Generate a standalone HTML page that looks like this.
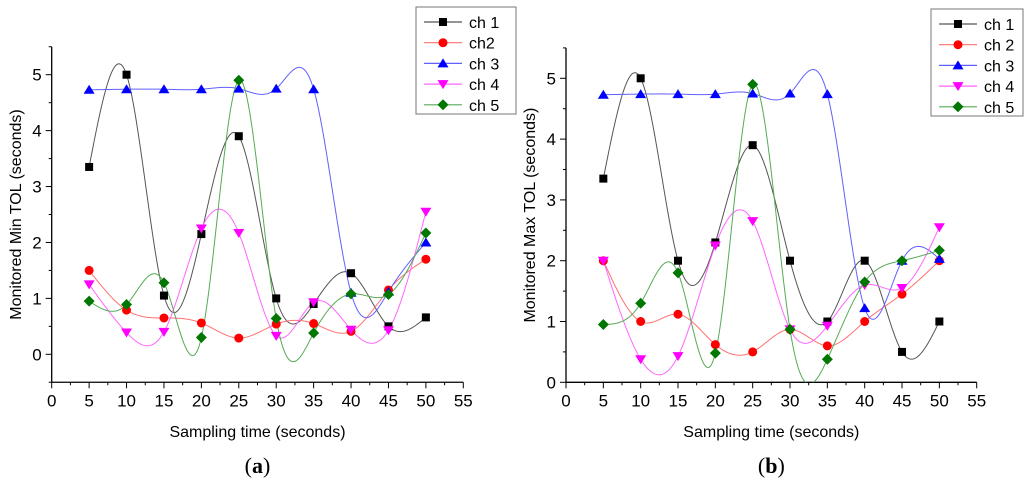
<!DOCTYPE html>
<html><head><meta charset="utf-8"><style>
html,body{margin:0;padding:0;background:#fff;width:1024px;height:487px;overflow:hidden;font-family:"Liberation Sans",sans-serif}
svg{display:block}
</style></head><body>
<svg id="svg" width="1024" height="487" viewBox="0 0 1024 487" font-family="Liberation Sans, sans-serif"></svg>
<script>
const xCats = [5,10,15,20,25,30,35,40,45,50];
const xTicks = [0,5,10,15,20,25,30,35,40,45,50,55];
const yTicks = [0,1,2,3,4,5];
const seriesNames = ['ch 1','ch2','ch 3','ch 4','ch 5'];
const seriesNamesB = ['ch 1','ch 2','ch 3','ch 4','ch 5'];
const colors = ['#000000','#ff0000','#0000ff','#ff00ff','#007700'];
const lineColors = ['#555555','#ff7070','#6060ff','#ff66ff','#55aa55'];
const shapes = ['square','circle','up','down','diamond'];
const a_ch1 = [3.35,5,1.05,2.15,3.9,1,0.9,1.45,0.5,0.66];
const a_ch2 = [1.5,0.79,0.65,0.56,0.29,0.54,0.55,0.41,1.15,1.7];
const a_ch3 = [4.73,4.74,4.74,4.74,4.75,4.75,4.74,1.1,1.12,2.0];
const a_ch4 = [1.25,0.39,0.4,2.25,2.17,0.33,0.93,0.44,0.43,2.55];
const a_ch5 = [0.95,0.89,1.28,0.3,4.9,0.64,0.38,1.08,1.07,2.17];
const b_ch1 = [3.35,5,2,2.3,3.9,2,1,2,0.5,1];
const b_ch2 = [2,1,1.12,0.62,0.5,0.87,0.6,1,1.45,2];
const b_ch3 = [4.73,4.74,4.74,4.74,4.75,4.75,4.74,1.22,2.0,2.03];
const b_ch4 = [2,0.38,0.43,2.25,2.65,0.87,0.93,1.6,1.55,2.55];
const b_ch5 = [0.95,1.3,1.8,0.48,4.9,0.87,0.38,1.65,2,2.17];

const NS='http://www.w3.org/2000/svg';
const svg=document.getElementById('svg');
function mk(tag,attrs,parent){const e=document.createElementNS(NS,tag);for(const k in attrs)e.setAttribute(k,attrs[k]);(parent||svg).appendChild(e);return e;}

function spline(xs,ys){
  const n=xs.length,h=[],al=[0],l=[1],mu=[0],z=[0],c=new Array(n).fill(0),b=[],d=[];
  for(let i=0;i<n-1;i++)h.push(xs[i+1]-xs[i]);
  for(let i=1;i<n-1;i++)al.push(3/h[i]*(ys[i+1]-ys[i])-3/h[i-1]*(ys[i]-ys[i-1]));
  for(let i=1;i<n-1;i++){l[i]=2*(xs[i+1]-xs[i-1])-h[i-1]*mu[i-1];mu[i]=h[i]/l[i];z[i]=(al[i]-h[i-1]*z[i-1])/l[i];}
  for(let j=n-2;j>=0;j--){c[j]=z[j]-mu[j]*c[j+1];b[j]=(ys[j+1]-ys[j])/h[j]-h[j]*(c[j+1]+2*c[j])/3;d[j]=(c[j+1]-c[j])/(3*h[j]);}
  return t=>{let i=0;while(i<n-2&&t>xs[i+1])i++;const dx=t-xs[i];return ys[i]+b[i]*dx+c[i]*dx*dx+d[i]*dx*dx*dx;};
}

function marker(g,shape,cx,cy,col){
  let e;
  if(shape==='square')e=mk('rect',{x:cx-4,y:cy-4,width:8,height:8,fill:col},g);
  else if(shape==='circle')e=mk('circle',{cx:cx,cy:cy,r:4.5,fill:col},g);
  else if(shape==='up')e=mk('polygon',{points:`${cx},${cy-5} ${cx+5.5},${cy+4} ${cx-5.5},${cy+4}`,fill:col},g);
  else if(shape==='down')e=mk('polygon',{points:`${cx},${cy+5} ${cx+5.5},${cy-4} ${cx-5.5},${cy-4}`,fill:col},g);
  else e=mk('polygon',{points:`${cx},${cy-5.5} ${cx+5.5},${cy} ${cx},${cy+5.5} ${cx-5.5},${cy}`,fill:col},g);
  
  
}

function chart(id,cfg,series,names){
  const g=mk('g',{});
  
  
  const X=v=>cfg.x0+v*(cfg.x55-cfg.x0)/55;
  const Y=v=>cfg.y0-v*(cfg.y0-cfg.y5)/5;
  const top=Y(5.5),bot=Y(cfg.ymin);
  const clip=mk('clipPath',{id:'clip'+id},g);
  mk('rect',{x:X(0),y:top-20,width:X(55)-X(0),height:bot-top+20},clip);
  const ya=mk('line',{x1:X(0),y1:top,x2:X(0),y2:bot,stroke:'#000','stroke-width':1.3},g);
  
  const xa=mk('line',{x1:X(0),y1:bot,x2:X(55),y2:bot,stroke:'#000','stroke-width':1.3},g);
  
  for(let k=Math.round(cfg.ymin*2);k<=11;k++){const v=k/2;const big=k%2===0;mk('line',{x1:X(0)-(big?6:3),y1:Y(v),x2:X(0),y2:Y(v),stroke:'#000','stroke-width':1},g);}
  yTicks.forEach(v=>{const t=mk('text',{x:X(0)-10,y:Y(v)+6,'text-anchor':'end','font-size':17},g);t.textContent=v;
    });
  for(let k=0;k<=22;k++){const v=k*2.5;const big=k%2===0;mk('line',{x1:X(v),y1:bot,x2:X(v),y2:bot+(big?6:3),stroke:'#000','stroke-width':1},g);}
  xTicks.forEach(v=>{const t=mk('text',{x:X(v),y:bot+24,'text-anchor':'middle','font-size':17},g);t.textContent=v;
    });
  const xt=mk('text',{x:(X(0)+X(55))/2,y:437,'text-anchor':'middle','font-size':16},g);xt.textContent='Sampling time (seconds)';
  
  const yt=mk('text',{x:0,y:0,'text-anchor':'middle','font-size':16,transform:`translate(${cfg.ytx},${(top+bot)/2}) rotate(-90)`},g);yt.textContent=cfg.ytitle;
  
  const pl=mk('text',{x:(X(0)+X(55))/2,y:473,'text-anchor':'middle','font-size':22,'font-family':'Liberation Serif, serif'},g);
  pl.innerHTML='(<tspan font-weight="bold">'+cfg.label+'</tspan>)';
  
  series.forEach((ys,si)=>{
    const f=spline(xCats,ys);let d='';
    const x1=xCats[0],x2=xCats[xCats.length-1],N=450;
    for(let k=0;k<=N;k++){const t=x1+(x2-x1)*k/N;d+=(d?'L':'M')+X(t).toFixed(2)+','+Y(f(t)).toFixed(2);}
    const p=mk('path',{d:d,fill:'none',stroke:lineColors[si],'stroke-width':1,'clip-path':`url(#clip${id})`},g);
    
  });
  series.forEach((ys,si)=>ys.forEach((v,i)=>marker(g,shapes[si],X(xCats[i]),Y(v),colors[si])));
  const lg=mk('g',{},g);
  mk('rect',{x:cfg.lx,y:cfg.ly,width:cfg.lw,height:107,fill:'#fff',stroke:'#777','stroke-width':1},lg);
  names.forEach((n,i)=>{const yy=cfg.ly+15+i*20.7;
    const e=mk('g',{},lg);
    mk('line',{x1:cfg.lx+8,y1:yy,x2:cfg.lx+46,y2:yy,stroke:lineColors[i],'stroke-width':1.2},e);
    marker(e,shapes[i],cfg.lx+27,yy,colors[i]);
    const t=mk('text',{x:cfg.lx+53,y:yy+6,'font-size':16},e);t.textContent=n;});
}
chart('a',{x0:51.7,x55:463.3,y0:354.3,y5:74.7,ymin:-0.5,ytx:21,ytitle:'Monitored Min TOL (seconds)',label:'a',lx:416,ly:7,lw:100},[a_ch1,a_ch2,a_ch3,a_ch4,a_ch5],seriesNames);
chart('b',{x0:566,x55:976.7,y0:382.3,y5:78.3,ymin:0,ytx:535,ytitle:'Monitored Max TOL (seconds)',label:'b',lx:931,ly:9,lw:92},[b_ch1,b_ch2,b_ch3,b_ch4,b_ch5],seriesNamesB);
</script>
</body></html>
